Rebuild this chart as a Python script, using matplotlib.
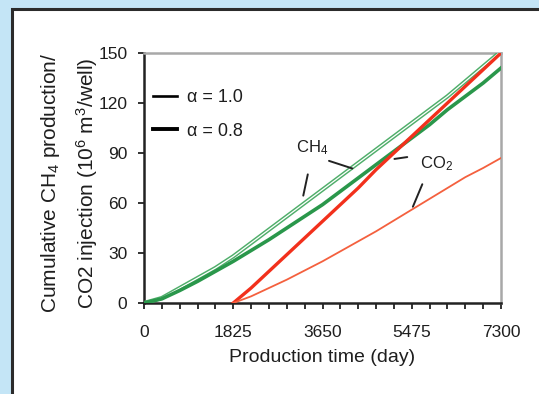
import numpy as np
import matplotlib
matplotlib.use("Agg")
import matplotlib.pyplot as plt
from matplotlib.patches import Rectangle
from matplotlib.lines import Line2D
from matplotlib.ticker import MultipleLocator

plt.rcParams['font.family'] = ['Liberation Sans', 'DejaVu Sans']
plt.rcParams['mathtext.fontset'] = 'custom'
plt.rcParams['mathtext.rm'] = 'Liberation Sans'
plt.rcParams['mathtext.it'] = 'Liberation Sans'

# production time (days), one point per year
days = [0, 365, 730, 1095, 1460, 1825, 2190, 2555, 2920, 3285, 3650,
        4015, 4380, 4745, 5110, 5475, 5840, 6205, 6570, 6935, 7300]
# CO2 injection starts at year 5
days_co2 = days[5:]

ch4_a10 = [0, 3, 9, 15, 21, 28, 36, 44, 52, 60, 68,
           76, 84, 92, 100, 108, 116, 124, 133, 142, 151]
ch4_a08 = [0, 2.5, 7.5, 13, 19, 25, 31.5, 38, 45, 52, 59,
           67, 75, 83, 91, 99, 107, 116, 124, 132, 141]
co2_a08 = [0, 9, 19, 29, 39, 49, 59, 69, 80, 90, 100, 110, 120, 130, 140, 150]
co2_a10 = [0, 4, 9, 14, 19.5, 25, 31, 37, 43, 49.5, 56, 62.5, 69, 75.5, 81, 87]

xticks = [0, 1825, 3650, 5475, 7300]
yticks = [0, 30, 60, 90, 120, 150]

W, H = 539, 394
fig = plt.figure(figsize=(W / 100, H / 100), dpi=100)
fig.patch.set_facecolor('#c4e5f6')
fig.patches.append(Rectangle((12 / W, -0.1), 1.2, (H - 9) / H + 0.1,
                             transform=fig.transFigure, facecolor='white',
                             edgecolor='#2b2b2b', linewidth=2.2, zorder=-5))

ax = fig.add_axes([144 / W, 1 - 303 / H, 357 / W, 250 / H])
ax.set_facecolor('white')

txt = '#1e1e1e'
green = '#2a974b'
red = '#f2301c'

# alpha = 1.0 CH4 : hollow-looking light green line
ax.plot(days, ch4_a10, color='#4fae6a', lw=3.0, solid_capstyle='butt', zorder=3)
ax.plot(days, ch4_a10, color='white', lw=0.9, zorder=3)
# alpha = 0.8 CH4
ax.plot(days, ch4_a08, color=green, lw=2.6, zorder=3)
# CO2 injection
ax.plot(days_co2, co2_a08, color=red, lw=2.4, zorder=4)
ax.plot(days_co2, co2_a10, color='#f4603e', lw=1.3, zorder=4)

ax.set_xlim(0, 7300)
ax.set_ylim(0, 150)
ax.set_xticks(xticks)
ax.set_yticks(yticks)
ax.xaxis.set_minor_locator(MultipleLocator(365))
ax.tick_params(axis='both', which='both', direction='out', length=4, width=1.3,
               color='#222222', labelsize=12.5, labelcolor=txt)
ax.tick_params(axis='x', pad=12)
ax.tick_params(axis='y', pad=8)

for s in ['left', 'bottom']:
    ax.spines[s].set_color('#222222')
    ax.spines[s].set_linewidth(1.8)
for s in ['top', 'right']:
    ax.spines[s].set_color('#a8a8a8')
    ax.spines[s].set_linewidth(1.8)

ax.set_xlabel('Production time (day)', fontsize=14, color=txt, labelpad=6)
fig.text(51 / W, 1 - 183 / H, 'Cumulative CH$_4$ production/', rotation=90,
         ha='center', va='center', fontsize=15, color=txt)
fig.text(87 / W, 1 - 183 / H, 'CO2 injection (10$^6$ m$^3$/well)', rotation=90,
         ha='center', va='center', fontsize=15, color=txt)

handles = [Line2D([], [], color='black', lw=1.9),
           Line2D([], [], color='black', lw=2.8)]
ax.legend(handles, ['α = 1.0', 'α = 0.8'], loc='upper left',
          bbox_to_anchor=(-0.02, 0.92), frameon=False, fontsize=13,
          handlelength=1.3, handletextpad=0.6, labelspacing=0.9,
          labelcolor=txt)

# labels with leader lines
ax.text(3435, 93.3, 'CH$_4$', fontsize=12, ha='center', va='center', color=txt)
ax.text(5991, 83.4, 'CO$_2$', fontsize=12, ha='center', va='center', color=txt)
lead = dict(arrowstyle='-', color='#222222', lw=1.4)
ax.annotate('', xy=(4315, 80.2), xytext=(3729, 85.8), arrowprops=lead)
ax.annotate('', xy=(3245, 62.8), xytext=(3361, 78.8), arrowprops=lead)
ax.annotate('', xy=(5065, 86.2), xytext=(5439, 87.8), arrowprops=lead)
ax.annotate('', xy=(5476, 56.2), xytext=(5713, 72.8), arrowprops=lead)

fig.savefig('out.png', dpi=100, facecolor=fig.get_facecolor())
